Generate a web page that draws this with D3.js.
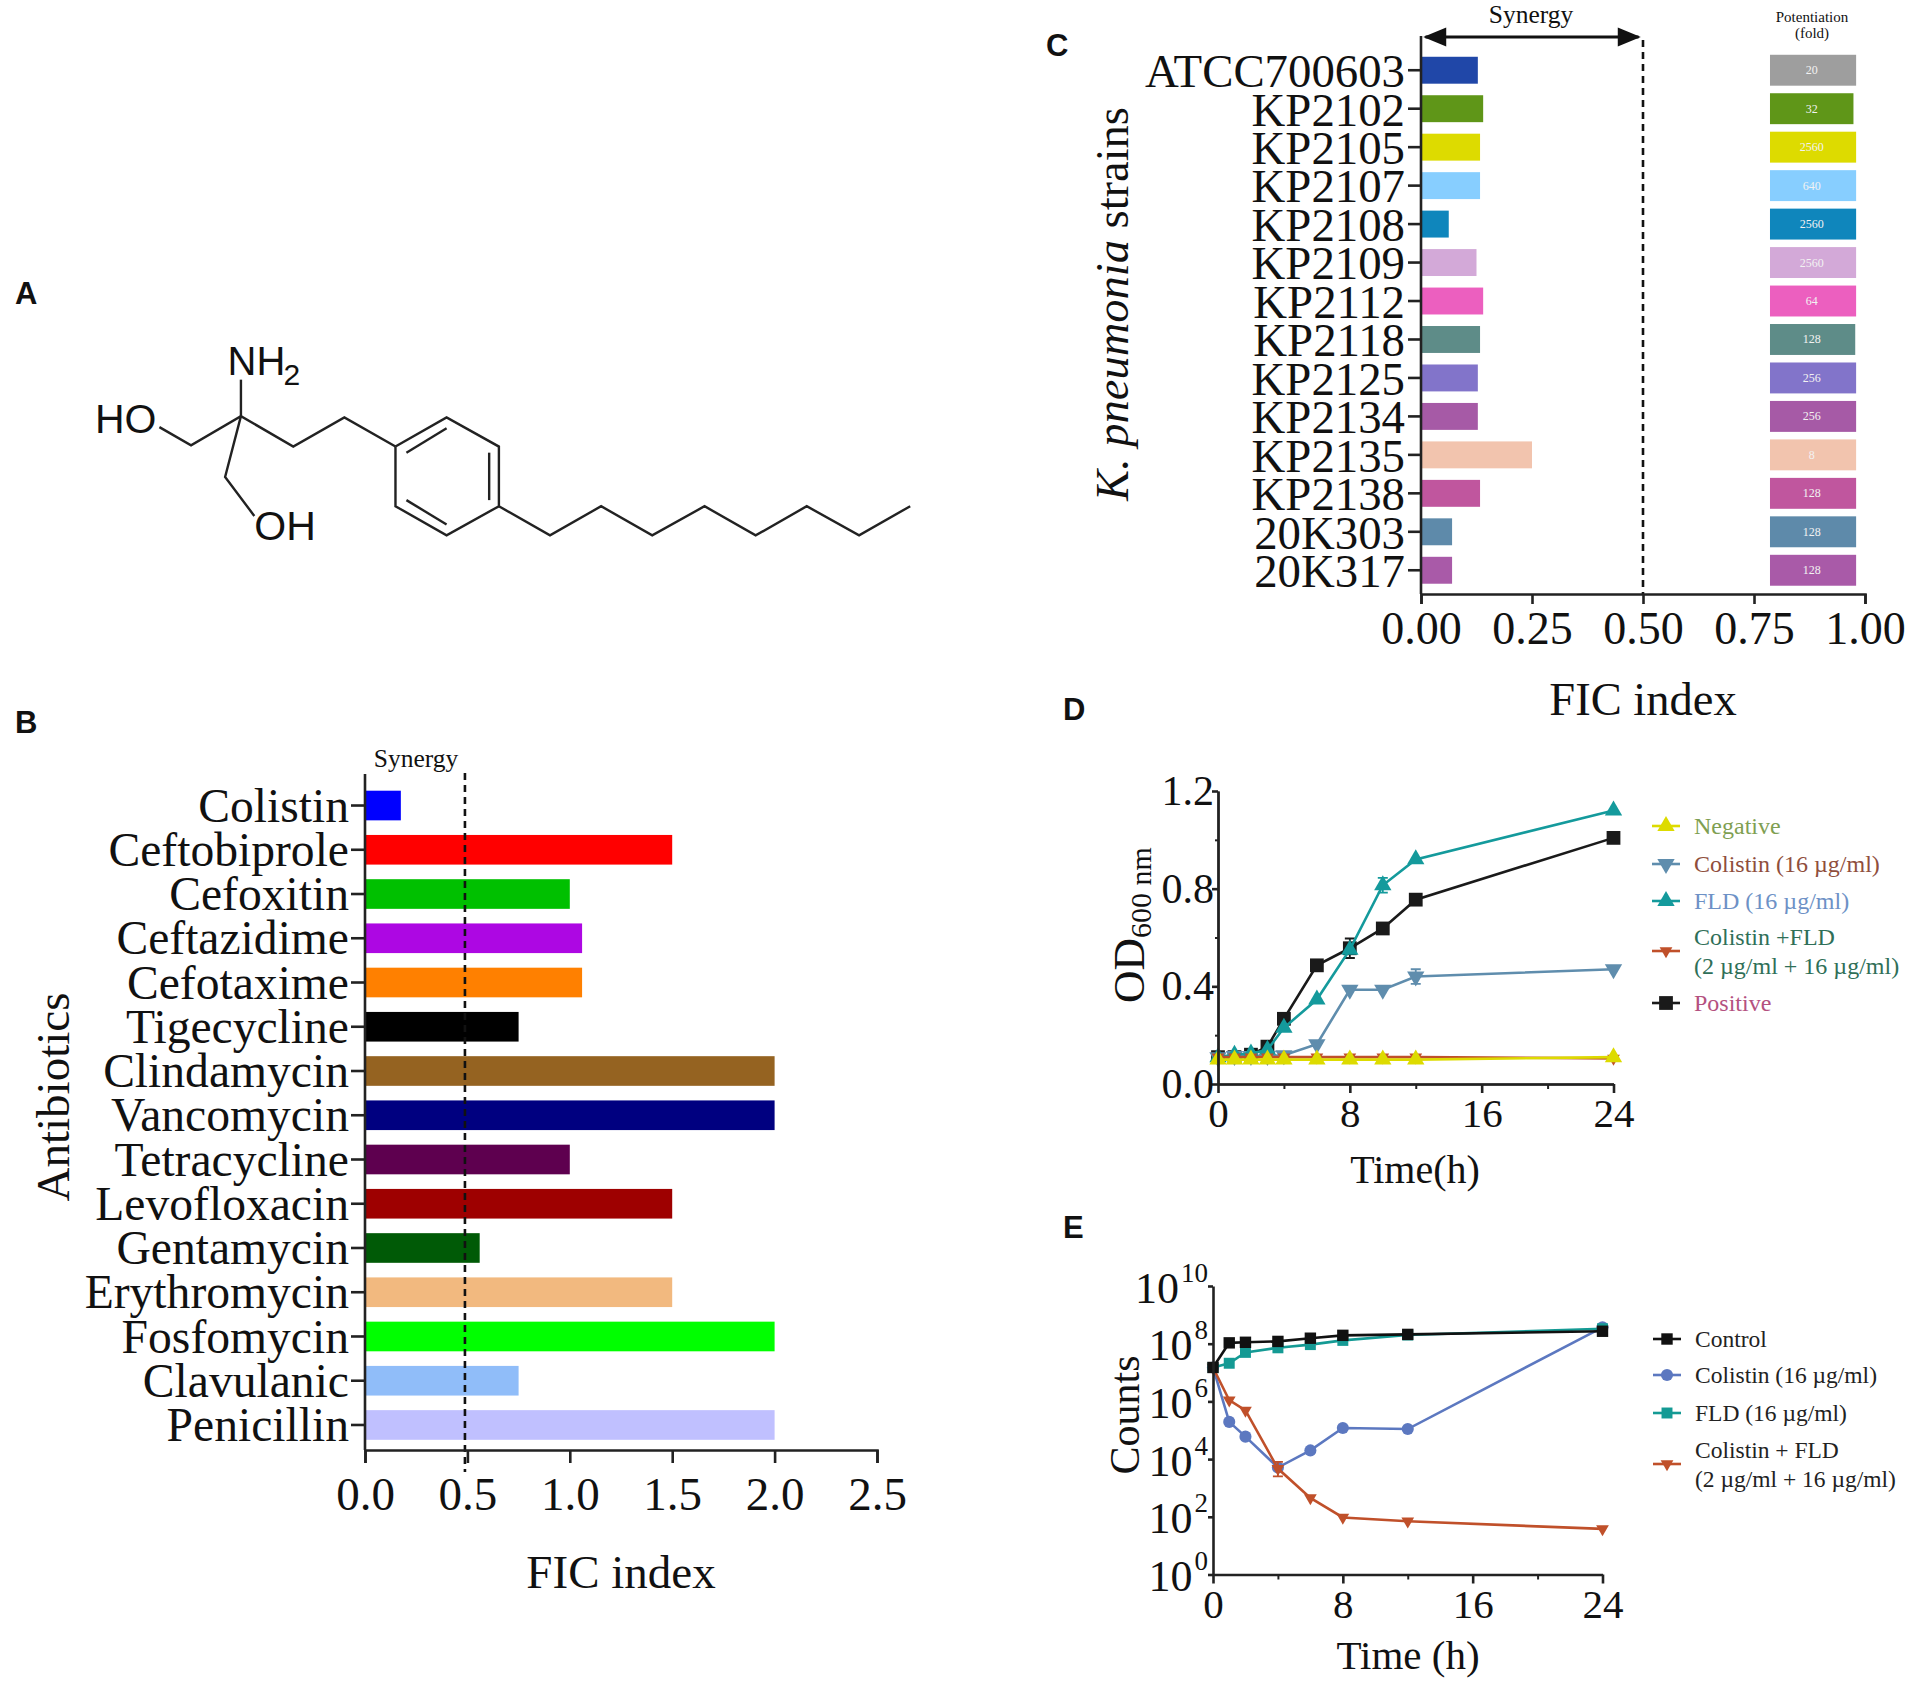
<!DOCTYPE html>
<html>
<head>
<meta charset="utf-8">
<script src="https://cdn.jsdelivr.net/npm/d3@7"></script>
<style>
  html, body { margin: 0; padding: 0; background: #fff; }
  svg { display: block; }
  text { font-family: "Liberation Serif", serif; fill: #111; }
  .panel { font-family: "Liberation Sans", sans-serif; font-weight: bold; font-size: 31px; }
  .atom { font-family: "Liberation Sans", sans-serif; }
</style>
</head>
<body>
<script>
// panel B
const antibiotics = ["Colistin", "Ceftobiprole", "Cefoxitin", "Ceftazidime", "Cefotaxime", "Tigecycline", "Clindamycin", "Vancomycin", "Tetracycline", "Levofloxacin", "Gentamycin", "Erythromycin", "Fosfomycin", "Clavulanic", "Penicillin"];
const antibioticFic = [0.175, 1.5, 1, 1.06, 1.06, 0.75, 2, 2, 1, 1.5, 0.56, 1.5, 2, 0.75, 2];
const antibioticColors = ["#0000ff", "#ff0000", "#00c000", "#ad07e3", "#ff8000", "#000000", "#956321", "#000080", "#5e004f", "#9e0000", "#005a06", "#f2b97f", "#00ff00", "#90bdf9", "#c0c0ff"];

// panel C
const strains = ["ATCC700603", "KP2102", "KP2105", "KP2107", "KP2108", "KP2109", "KP2112", "KP2118", "KP2125", "KP2134", "KP2135", "KP2138", "20K303", "20K317"];
const strainFic = [0.128, 0.14, 0.133, 0.133, 0.0625, 0.125, 0.14, 0.133, 0.128, 0.128, 0.25, 0.133, 0.07, 0.07];
const strainColors = ["#2047a8", "#5f9618", "#dddb00", "#87ceff", "#0f86bc", "#d3a9d8", "#ec5fbf", "#5e8c88", "#8274ca", "#a65aa6", "#f2c4ae", "#c0569e", "#5e8aaa", "#a95aa8"];
const potentiation = [20, 32, 2560, 640, 2560, 2560, 64, 128, 256, 256, 8, 128, 128, 128];
const potentiationColors = ["#9e9e9e"].concat(strainColors.slice(1));
const potentiationEnd = [0.98, 0.974, 0.98, 0.98, 0.98, 0.98, 0.98, 0.978, 0.98, 0.98, 0.98, 0.98, 0.98, 0.98];
const potentiationStart = 0.786;

// panel D
const hoursD = [0, 1, 2, 3, 4, 6, 8, 10, 12, 24];
const negativeOD = [0.1, 0.1, 0.1, 0.1, 0.1, 0.1, 0.1, 0.1, 0.1, 0.11];
const colistinOD = [0.11, 0.115, 0.115, 0.115, 0.118, 0.163, 0.386, 0.386, 0.44, 0.47];
const fldOD = [0.11, 0.12, 0.125, 0.14, 0.23, 0.346, 0.55, 0.814, 0.92, 1.12];
const comboOD = [0.11, 0.11, 0.11, 0.11, 0.11, 0.11, 0.11, 0.11, 0.11, 0.105];
const positiveOD = [0.11, 0.11, 0.12, 0.153, 0.267, 0.486, 0.556, 0.637, 0.755, 1.008];
const colistinODErr = [0, 0, 0, 0, 0, 0, 0, 0, 0.03, 0];
const fldODErr = [0, 0, 0, 0, 0, 0, 0, 0.03, 0, 0];
const positiveODErr = [0, 0, 0, 0, 0, 0, 0.04, 0, 0, 0];

// panel E
const hoursE = [0, 1, 2, 4, 6, 8, 12, 24];
const controlCounts = [1.5e7, 1.07e8, 1.12e8, 1.2e8, 1.55e8, 1.95e8, 2.1e8, 2.7e8];
const colistinCounts = [1.5e7, 1.95e5, 6e4, 5.1e3, 2e4, 1.2e5, 1.1e5, 3.7e8];
const fldCounts = [1.5e7, 2.1e7, 5e7, 7.2e7, 9.3e7, 1.3e8, 2e8, 3.3e8];
const comboCounts = [1.5e7, 1.1e6, 4.9e5, 4.7e3, 4.5e2, 95, 70, 38];
const comboCountsLow = [1.5e7, 1.1e6, 4.9e5, 2.5e3, 4.5e2, 95, 70, 38];
const comboCountsHigh = [1.5e7, 1.1e6, 4.9e5, 8e3, 4.5e2, 95, 70, 38];

// panel A, drawn in the units of the small preview
const molBonds = [
  [[198, 312], [198, 342]],
  [[131, 351], [157, 366], [198, 342], [241, 367], [283, 343], [325, 367]],
  [[198, 342], [185, 392], [209, 424]],
  [[325, 367], [367, 343], [410, 367], [410, 416], [367, 440], [325, 416], [325, 367]],
  [[334, 372], [367, 352]],
  [[402, 372], [402, 411]],
  [[334, 411], [367, 431]],
  [[410, 416], [452, 440], [494, 416], [536, 440], [579, 416], [621, 440], [663, 416], [706, 440], [748, 416]]
];

const WIDTH = 1908, HEIGHT = 1682;
const svg = d3.select("body").append("svg").attr("width", WIDTH).attr("height", HEIGHT);
const AXIS = 2.6;

function styleAxis(g, width) {
  g.select(".domain").attr("stroke", "#222").attr("stroke-width", width || AXIS);
  g.selectAll(".tick line").attr("stroke", "#222").attr("stroke-width", width || AXIS);
}

function label(x, y, str, size, anchor) {
  return svg.append("text").attr("x", x).attr("y", y)
    .attr("font-size", size).attr("text-anchor", anchor || "middle").text(str);
}

function rotatedLabel(x, y, str, size) {
  return svg.append("text").attr("transform", `translate(${x},${y}) rotate(-90)`)
    .attr("font-size", size).attr("text-anchor", "middle").text(str);
}

function panelLetter(x, y, str) {
  svg.append("text").attr("class", "panel").attr("x", x).attr("y", y).text(str);
}

panelLetter(15, 304, "A");
panelLetter(15, 733, "B");
panelLetter(1046, 56, "C");
panelLetter(1063, 720, "D");
panelLetter(1063, 1238, "E");

// ---- A
const mol = d3.scaleLinear().domain([0, 1568]).range([0, WIDTH]);
const molLine = d3.line().x((d) => mol(d[0])).y((d) => mol(d[1]));
svg.append("g").selectAll("path").data(molBonds).join("path")
  .attr("d", molLine).attr("fill", "none").attr("stroke", "#222").attr("stroke-width", 2.4);

function atom(x, y, str, size) {
  svg.append("text").attr("class", "atom").attr("x", mol(x)).attr("y", mol(y))
    .attr("font-size", size).text(str);
}
atom(78, 356, "HO", 41);
atom(209, 444, "OH", 41);
atom(187, 308, "NH", 40);
atom(233, 316, "2", 30);

// ---- B
const xB = d3.scaleLinear().domain([0, 2.5]).range([365, 877]);
const yB = d3.scaleBand().domain(antibiotics).range([783.4, 1447.1]).paddingInner(0.33).paddingOuter(0.165);
const BASE_B = 1450;

svg.append("g").selectAll("rect").data(antibiotics).join("rect")
  .attr("x", xB(0)).attr("y", (d) => yB(d))
  .attr("width", (d, i) => xB(antibioticFic[i]) - xB(0))
  .attr("height", yB.bandwidth())
  .attr("fill", (d, i) => antibioticColors[i]);

svg.append("line").attr("x1", xB(0.488)).attr("x2", xB(0.488)).attr("y1", 773).attr("y2", 1472)
  .attr("stroke", "#111").attr("stroke-width", 2.6).attr("stroke-dasharray", "7 5");

const axB = svg.append("g").attr("transform", `translate(0,${BASE_B})`)
  .call(d3.axisBottom(xB).tickValues([0, 0.5, 1, 1.5, 2, 2.5]).tickFormat(d3.format(".1f")).tickSizeOuter(0).tickSize(13).tickPadding(14));
axB.selectAll("text").attr("font-size", 47).attr("fill", "#111");
styleAxis(axB);

const ayB = svg.append("g").attr("transform", `translate(${xB(0)},0)`)
  .call(d3.axisLeft(yB).tickSize(14).tickSizeOuter(0).tickPadding(2));
ayB.select(".domain").attr("d", `M0,774V${BASE_B}`);
ayB.selectAll("text").attr("font-size", 47.6).attr("dy", "0.34em").attr("fill", "#111");
styleAxis(ayB);

label(416, 767, "Synergy", 25.5);
label(621, 1588, "FIC index", 47);
rotatedLabel(69, 1097, "Antibiotics", 47);

// ---- C
const xC = d3.scaleLinear().domain([0, 1]).range([1421, 1865]);
const yC = d3.scaleBand().domain(strains).range([51, 589.5]).paddingInner(0.3).paddingOuter(0.15);
const BASE_C = 594;

svg.append("g").selectAll("rect").data(strains).join("rect")
  .attr("x", xC(0)).attr("y", (d) => yC(d))
  .attr("width", (d, i) => xC(strainFic[i]) - xC(0))
  .attr("height", yC.bandwidth())
  .attr("fill", (d, i) => strainColors[i]);

const potG = svg.append("g").selectAll("g").data(strains).join("g");
potG.append("rect")
  .attr("x", xC(potentiationStart))
  .attr("y", (d) => yC(d) - 2)
  .attr("width", (d, i) => xC(potentiationEnd[i]) - xC(potentiationStart))
  .attr("height", yC.bandwidth() + 4)
  .attr("fill", (d, i) => potentiationColors[i]);
potG.append("text")
  .attr("x", xC(0.88)).attr("y", (d) => yC(d) + yC.bandwidth() / 2 + 4)
  .attr("text-anchor", "middle").attr("font-size", 12)
  .style("fill", "#f2f2f2")
  .text((d, i) => potentiation[i]);

svg.append("line").attr("x1", xC(0.5)).attr("x2", xC(0.5)).attr("y1", 40).attr("y2", BASE_C)
  .attr("stroke", "#111").attr("stroke-width", 2.6).attr("stroke-dasharray", "7 5");

svg.append("line").attr("x1", xC(0.01)).attr("x2", xC(0.49)).attr("y1", 37).attr("y2", 37)
  .attr("stroke", "#111").attr("stroke-width", 3);
svg.append("path")
  .attr("d", `M${xC(0.005)},37l23,-9.5v19zM${xC(0.495)},37l-23,-9.5v19z`)
  .attr("fill", "#111");

const axC = svg.append("g").attr("transform", `translate(0,${BASE_C})`)
  .call(d3.axisBottom(xC).tickValues([0, 0.25, 0.5, 0.75, 1]).tickFormat(d3.format(".2f")).tickSizeOuter(0).tickSize(10).tickPadding(7));
axC.selectAll("text").attr("font-size", 46).attr("fill", "#111");
styleAxis(axC);

const ayC = svg.append("g").attr("transform", `translate(${xC(0)},0)`)
  .call(d3.axisLeft(yC).tickSize(13).tickSizeOuter(0).tickPadding(3));
ayC.select(".domain").attr("d", `M0,36V${BASE_C}`);
ayC.selectAll("text").attr("font-size", 46.8).attr("dy", "0.36em").attr("fill", "#111");
styleAxis(ayC);

label(1531, 23, "Synergy", 25.5);
label(1812, 22, "Potentiation", 15);
label(1812, 38, "(fold)", 15);
label(1643, 715, "FIC index", 46.5);
const cTitle = rotatedLabel(1128, 304, "", 46.5);
cTitle.append("tspan").attr("font-style", "italic").text("K. pneumonia");
cTitle.append("tspan").text(" strains");

// ---- line panels
function drawSeries(x, y, hours, series) {
  const line = d3.line().x((d) => x(d[0])).y((d) => y(d[1]));
  series.forEach((s) => {
    const pts = hours.map((h, i) => [h, s.values[i]]);
    const g = svg.append("g");
    g.append("path").attr("d", line(pts)).attr("fill", "none")
      .attr("stroke", s.color).attr("stroke-width", s.width || 2.6);
    if (s.low) {
      hours.forEach((h, i) => {
        if (s.low[i] === s.high[i]) return;
        g.append("path")
          .attr("d", `M${x(h) - 5},${y(s.high[i])}h10M${x(h)},${y(s.high[i])}V${y(s.low[i])}M${x(h) - 5},${y(s.low[i])}h10`)
          .attr("fill", "none").attr("stroke", s.color).attr("stroke-width", 1.8);
      });
    }
    g.selectAll("path.mark").data(pts).join("path").attr("class", "mark")
      .attr("d", d3.symbol().type(s.symbol).size(s.size))
      .attr("transform", (d) => `translate(${x(d[0])},${y(d[1])})${s.flip ? " rotate(180)" : ""}`)
      .attr("fill", s.color);
  });
}

function legendRow(x, y, s, lines, textX, size, textColor) {
  const g = svg.append("g");
  g.append("line").attr("x1", x - 14).attr("x2", x + 14).attr("y1", y).attr("y2", y)
    .attr("stroke", s.color).attr("stroke-width", 2.6);
  g.append("path").attr("d", d3.symbol().type(s.symbol).size(s.size))
    .attr("transform", `translate(${x},${y})${s.flip ? " rotate(180)" : ""}`).attr("fill", s.color);
  const top = y + 8 - (lines.length - 1) * 14.5;
  lines.forEach((t, i) => {
    g.append("text").attr("x", textX).attr("y", top + i * 29).attr("font-size", size)
      .style("fill", textColor).text(t);
  });
}

// ---- D
const xD = d3.scaleLinear().domain([0, 24]).range([1218, 1613.5]);
const yD = d3.scaleLinear().domain([0, 1.2]).range([1084, 791]);

const seriesD = [
  { color: "#1a1a1a", symbol: d3.symbolSquare, size: 190, values: positiveOD,
    low: positiveOD.map((v, i) => v - positiveODErr[i]), high: positiveOD.map((v, i) => v + positiveODErr[i]) },
  { color: "#5f8dad", symbol: d3.symbolTriangle, size: 130, flip: true, values: colistinOD,
    low: colistinOD.map((v, i) => v - colistinODErr[i]), high: colistinOD.map((v, i) => v + colistinODErr[i]) },
  { color: "#149a9c", symbol: d3.symbolTriangle, size: 130, values: fldOD,
    low: fldOD.map((v, i) => v - fldODErr[i]), high: fldOD.map((v, i) => v + fldODErr[i]) },
  { color: "#c0502a", symbol: d3.symbolTriangle, size: 70, flip: true, values: comboOD },
  { color: "#dddb00", symbol: d3.symbolTriangle, size: 130, values: negativeOD }
];
drawSeries(xD, yD, hoursD, seriesD);

const axDMinor = svg.append("g").attr("transform", `translate(0,${yD(0)})`)
  .call(d3.axisBottom(xD).tickValues([4, 12, 20]).tickFormat("").tickSize(5).tickSizeOuter(0));
styleAxis(axDMinor, 2);
const axD = svg.append("g").attr("transform", `translate(0,${yD(0)})`)
  .call(d3.axisBottom(xD).tickValues([0, 8, 16, 24]).tickSize(9).tickSizeOuter(0).tickPadding(5));
axD.selectAll("text").attr("font-size", 41).attr("fill", "#111");
styleAxis(axD);
const ayDMinor = svg.append("g").attr("transform", `translate(${xD(0)},0)`)
  .call(d3.axisLeft(yD).tickValues([0.2, 0.6, 1]).tickFormat("").tickSize(3).tickSizeOuter(0));
styleAxis(ayDMinor, 2);
const ayD = svg.append("g").attr("transform", `translate(${xD(0)},0)`)
  .call(d3.axisLeft(yD).tickValues([0, 0.4, 0.8, 1.2]).tickFormat(d3.format(".1f")).tickSize(6).tickSizeOuter(0).tickPadding(-2));
ayD.selectAll("text").attr("font-size", 42).attr("fill", "#111");
styleAxis(ayD);

label(1415, 1183, "Time(h)", 40);
const dTitle = svg.append("text").attr("transform", "translate(1144,925) rotate(-90)")
  .attr("text-anchor", "middle").attr("font-size", 45);
dTitle.append("tspan").text("OD");
dTitle.append("tspan").attr("font-size", 30).attr("dy", 7).text("600 nm");

legendRow(1666, 826, seriesD[4], ["Negative"], 1694, 24, "#7f9f52");
legendRow(1666, 864, seriesD[1], ["Colistin (16 µg/ml)"], 1694, 24, "#8f4e3c");
legendRow(1666, 901, seriesD[2], ["FLD (16 µg/ml)"], 1694, 24, "#6d91c6");
legendRow(1666, 951, seriesD[3], ["Colistin +FLD", "(2 µg/ml + 16 µg/ml)"], 1694, 24, "#2f6f58");
legendRow(1666, 1003, seriesD[0], ["Positive"], 1694, 24, "#b4517f");

// ---- E
const xE = d3.scaleLinear().domain([0, 24]).range([1213, 1602.5]);
const yE = d3.scaleLog().domain([1, 1e10]).range([1574.5, 1286]);

const seriesE = [
  { color: "#5c78c0", symbol: d3.symbolCircle, size: 115, values: colistinCounts },
  { color: "#c0502a", symbol: d3.symbolTriangle, size: 70, flip: true, values: comboCounts, low: comboCountsLow, high: comboCountsHigh },
  { color: "#149a94", symbol: d3.symbolSquare, size: 120, values: fldCounts },
  { color: "#111111", symbol: d3.symbolSquare, size: 130, values: controlCounts }
];
drawSeries(xE, yE, hoursE, seriesE);

const axEMinor = svg.append("g").attr("transform", `translate(0,${yE(1)})`)
  .call(d3.axisBottom(xE).tickValues([4, 12, 20]).tickFormat("").tickSize(5).tickSizeOuter(0));
styleAxis(axEMinor, 2);
const axE = svg.append("g").attr("transform", `translate(0,${yE(1)})`)
  .call(d3.axisBottom(xE).tickValues([0, 8, 16, 24]).tickSize(9).tickSizeOuter(0).tickPadding(5));
axE.selectAll("text").attr("font-size", 41).attr("fill", "#111");
styleAxis(axE);

const ayE = svg.append("g").attr("transform", `translate(${xE(0)},0)`)
  .call(d3.axisLeft(yE).tickValues([1, 1e2, 1e4, 1e6, 1e8, 1e10]).tickFormat("").tickSize(5).tickSizeOuter(0));
styleAxis(ayE);
ayE.selectAll(".tick").each(function (d) {
  const t = d3.select(this).append("text").attr("x", -5).attr("y", 16)
    .attr("text-anchor", "end").attr("font-size", 44).attr("fill", "#111");
  t.append("tspan").text("10");
  t.append("tspan").attr("font-size", 27).attr("dy", -21).attr("dx", 2).text(Math.round(Math.log10(d)));
});

label(1408, 1669, "Time (h)", 41);
rotatedLabel(1139, 1415, "Counts", 42);

legendRow(1667, 1339, seriesE[3], ["Control"], 1695, 23.5, "#222");
legendRow(1667, 1375, seriesE[0], ["Colistin (16 µg/ml)"], 1695, 23.5, "#222");
legendRow(1667, 1413, seriesE[2], ["FLD (16 µg/ml)"], 1695, 23.5, "#222");
legendRow(1667, 1464, seriesE[1], ["Colistin + FLD", "(2 µg/ml + 16 µg/ml)"], 1695, 23.5, "#222");
</script>
</body>
</html>
